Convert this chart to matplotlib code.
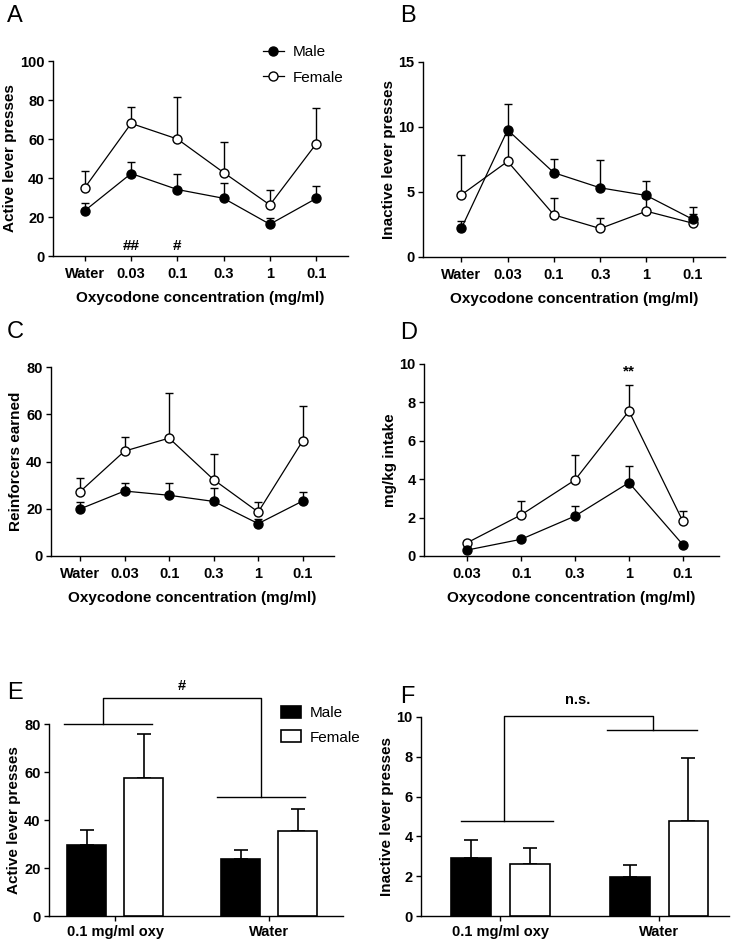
import numpy as np
import matplotlib
matplotlib.use('Agg')
import matplotlib.pyplot as plt

plt.rcParams['font.family'] = ['Liberation Sans', 'DejaVu Sans']

conc_a = ['Water', '0.03', '0.1', '0.3', '1', '0.1']
conc_d = ['0.03', '0.1', '0.3', '1', '0.1']

# A: active lever presses
active_male = [23.3, 42.3, 34.1, 29.6, 16.3, 29.5]
active_male_err = [3.9, 6.0, 7.9, 8.1, 3.4, 6.3]
active_female = [35.1, 68.0, 60.0, 42.8, 26.2, 57.5]
active_female_err = [8.7, 8.5, 21.3, 15.8, 7.5, 18.2]

# B: inactive lever presses
inactive_male = [2.2, 9.77, 6.48, 5.32, 4.73, 2.9]
inactive_male_err = [0.6, 2.0, 1.02, 2.11, 1.13, 0.93]
inactive_female = [4.78, 7.35, 3.24, 2.19, 3.52, 2.6]
inactive_female_err = [3.09, 2.0, 1.31, 0.84, 1.0, 0.74]

# C: reinforcers earned
reinf_male = [19.9, 27.5, 25.7, 23.1, 13.7, 23.3]
reinf_male_err = [2.9, 3.5, 5.2, 5.8, 2.0, 3.6]
reinf_female = [27.2, 44.4, 49.9, 32.3, 18.6, 48.8]
reinf_female_err = [5.9, 6.0, 18.9, 11.0, 4.2, 14.5]

# D: mg/kg intake
intake_male = [0.31, 0.87, 2.08, 3.82, 0.59]
intake_male_err = [0.05, 0.1, 0.5, 0.85, 0.08]
intake_female = [0.69, 2.14, 3.96, 7.55, 1.81]
intake_female_err = [0.1, 0.74, 1.28, 1.37, 0.53]

# E/F: bars
groups = ['0.1 mg/ml oxy', 'Water']
bar_active_male = [29.8, 23.6]
bar_active_male_err = [6.2, 4.0]
bar_active_female = [57.7, 35.5]
bar_active_female_err = [18.0, 9.0]
bar_inactive_male = [2.92, 1.98]
bar_inactive_male_err = [0.91, 0.59]
bar_inactive_female = [2.59, 4.77]
bar_inactive_female_err = [0.84, 3.15]

fig = plt.figure(figsize=(7.35, 9.43), dpi=100)

TICKFS = 10.5
LABFS = 11


def style(ax):
    for s in ['top', 'right']:
        ax.spines[s].set_visible(False)
    for s in ['left', 'bottom']:
        ax.spines[s].set_linewidth(1.0)
    ax.tick_params(direction='out', length=3.5, width=1.0, labelsize=TICKFS, pad=2.5)
    ax.tick_params(axis='x', pad=4.5)
    for lab in ax.get_xticklabels() + ax.get_yticklabels():
        lab.set_fontweight('bold')


def line_panel(rect, labels, male, male_err, female, female_err, ylim, yticks, ylabel, xlim):
    ax = fig.add_axes(rect)
    x = np.arange(len(labels))
    z = np.zeros(len(labels))
    ax.errorbar(x, female, yerr=[z, female_err], fmt='none', ecolor='k', elinewidth=1,
                capsize=3, capthick=1, zorder=2)
    ax.errorbar(x, male, yerr=[z, male_err], fmt='none', ecolor='k', elinewidth=1,
                capsize=3, capthick=1, zorder=2)
    lf, = ax.plot(x, female, '-o', color='k', mfc='white', mec='k', mew=1, ms=6.5, lw=0.9,
                  zorder=3, label='Female')
    lm, = ax.plot(x, male, '-o', color='k', mfc='k', mec='k', ms=6.5, lw=0.9, zorder=4,
                  label='Male')
    ax.set_xlim(*xlim)
    ax.set_ylim(*ylim)
    ax.set_yticks(yticks)
    ax.set_xticks(x)
    ax.set_xticklabels(labels)
    ax.set_ylabel(ylabel, fontsize=LABFS, fontweight='bold', labelpad=2)
    ax.set_xlabel('Oxycodone concentration (mg/ml)', fontsize=LABFS, fontweight='bold',
                  labelpad=7)
    style(ax)
    return ax, lm, lf


axA, lm, lf = line_panel([0.0721, 0.7285, 0.4014, 0.2068], conc_a, active_male, active_male_err,
                         active_female, active_female_err, (0, 100), [0, 20, 40, 60, 80, 100],
                         'Active lever presses', (-0.69, 5.69))
axA.text(1, 5, '##', ha='center', va='center', fontsize=11, fontweight='bold')
axA.text(2, 5, '#', ha='center', va='center', fontsize=11, fontweight='bold')
fig.legend([lm, lf], ['Male', 'Female'], loc='center left', bbox_to_anchor=(0.347, 0.931),
           bbox_transform=fig.transFigure, frameon=False, fontsize=11, handlelength=1.4,
           handletextpad=0.6, labelspacing=0.75, borderpad=0)

axB, _, _ = line_panel([0.5755, 0.7275, 0.4109, 0.2068], conc_a, inactive_male, inactive_male_err,
                       inactive_female, inactive_female_err, (0, 15), [0, 5, 10, 15],
                       'Inactive lever presses', (-0.83, 5.7))

axC, _, _ = line_panel([0.0694, 0.4104, 0.385, 0.2004], conc_a, reinf_male, reinf_male_err,
                       reinf_female, reinf_female_err, (0, 80), [0, 20, 40, 60, 80],
                       'Reinforcers earned', (-0.65, 5.7))

axD, _, _ = line_panel([0.5769, 0.4104, 0.4013, 0.2036], conc_d, intake_male, intake_male_err,
                       intake_female, intake_female_err, (0, 10), [0, 2, 4, 6, 8, 10],
                       'mg/kg intake', (-0.8, 4.67))
axD.text(3, 9.6, '**', ha='center', va='center', fontsize=11, fontweight='bold')


def bar_panel(rect, male, male_err, female, female_err, ylim, yticks, ylabel, xlim):
    ax = fig.add_axes(rect)
    x = np.arange(len(groups))
    w = 0.25
    bm = ax.bar(x - 0.185, male, w, color='k', edgecolor='k', lw=1.2, zorder=3, label='Male')
    bf = ax.bar(x + 0.185, female, w, color='white', edgecolor='k', lw=1.2, zorder=3,
                label='Female')
    z = np.zeros(len(groups))
    ax.errorbar(x - 0.185, male, yerr=[z, male_err], fmt='none', ecolor='k', elinewidth=1.2,
                capsize=5, capthick=1.2, zorder=2)
    ax.errorbar(x + 0.185, female, yerr=[z, female_err], fmt='none', ecolor='k', elinewidth=1.2,
                capsize=5, capthick=1.2, zorder=2)
    ax.set_xlim(*xlim)
    ax.set_ylim(*ylim)
    ax.set_yticks(yticks)
    ax.set_xticks(x)
    ax.set_xticklabels(groups)
    ax.set_ylabel(ylabel, fontsize=LABFS, fontweight='bold', labelpad=2)
    style(ax)
    ax.tick_params(axis='x', pad=3)
    return ax, bm, bf


def bracket(ax, left, right, top, label, ty):
    # left group line, right group line, joined by a bracket
    kw = dict(color='k', lw=1.0, clip_on=False)
    ax.plot([left[0], left[1]], [left[2], left[2]], **kw)
    ax.plot([right[0], right[1]], [right[2], right[2]], **kw)
    ax.plot([top[0], top[0], top[1], top[1]], [left[2], top[2], top[2], right[2]], **kw)
    ax.text((top[0] + top[1]) / 2, ty, label, ha='center', va='center', fontsize=10.5,
            fontweight='bold', clip_on=False)


axE, bm, bf = bar_panel([0.0667, 0.0286, 0.4, 0.2036], bar_active_male, bar_active_male_err,
                        bar_active_female, bar_active_female_err, (0, 80), [0, 20, 40, 60, 80],
                        'Active lever presses', (-0.43, 1.48))
bracket(axE, (-0.33, 0.24, 80), (0.66, 1.23, 49.6), (-0.08, 0.95, 90.7), '#', 96)
fig.legend([bm, bf], ['Male', 'Female'], loc='center left', bbox_to_anchor=(0.372, 0.2307),
           bbox_transform=fig.transFigure, frameon=False, fontsize=11, handlelength=1.3,
           handleheight=0.8, handletextpad=0.6, labelspacing=0.65, borderpad=0)

axF, _, _ = bar_panel([0.5728, 0.0286, 0.419, 0.2111], bar_inactive_male, bar_inactive_male_err,
                      bar_inactive_female, bar_inactive_female_err, (0, 10), [0, 2, 4, 6, 8, 10],
                      'Inactive lever presses', (-0.5, 1.44))
bracket(axF, (-0.25, 0.33, 4.76), (0.67, 1.24, 9.33), (0.02, 0.96, 10.05), 'n.s.', 10.85)

# panel letters
for letter, px, py in [('A', 7, 16), ('B', 400, 16), ('C', 7, 332), ('D', 400, 333),
                       ('E', 7, 693), ('F', 400, 697)]:
    fig.text(px / 735, 1 - py / 943, letter, fontsize=17, ha='left', va='center')

fig.savefig('out.png', dpi=100)
